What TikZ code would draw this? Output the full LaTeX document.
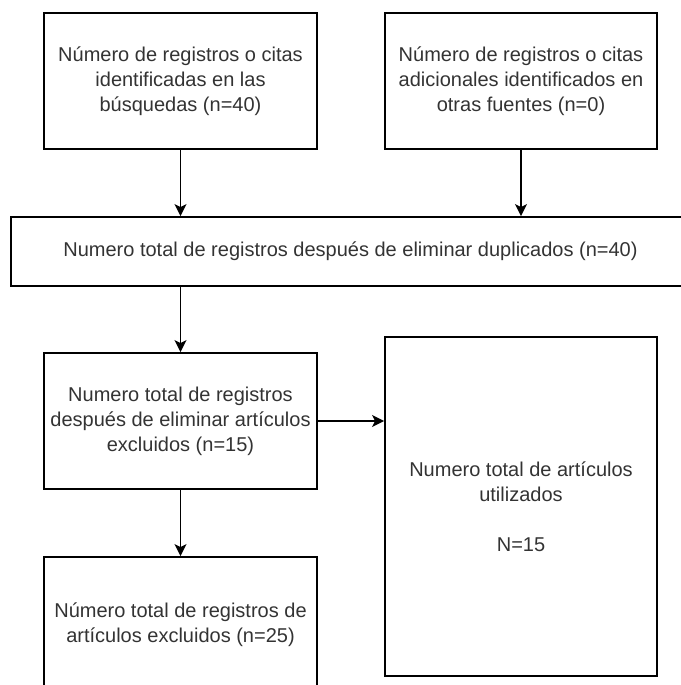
\documentclass[tikz,border=0pt]{standalone}
\usepackage{fontspec}
\setmainfont{Liberation Sans}
\usetikzlibrary{arrows.meta}

\begin{document}
\begin{tikzpicture}[x=1pt,y=-1pt]
  \tikzset{flow box/.style 2 args={draw,line width=1.8pt,rectangle,inner sep=0pt,align=center,
      minimum width=#1,minimum height=#2,text=black!80,font=\fontsize{20}{25}\selectfont}}
  \tikzset{flow arrow/.style={line width=1.8pt,-{Stealth[length=12pt,width=12pt,inset=3pt]}}}

  \useasboundingbox (0,0) rectangle (680,685);

  \node [flow box={273pt}{136pt}] (A) at (180.5,81) {Número de registros o citas\\identificadas en las\\búsquedas (n=40)};
  \node [flow box={272pt}{136pt}] (B) at (521,81) {Número de registros o citas\\adicionales identificados en\\otras fuentes (n=0)};
  \node [flow box={679pt}{69pt}] (T) at (350.5,251.5) {Numero total de registros después de eliminar duplicados (n=40)};
  \node [flow box={273pt}{136pt}] (C) at (180.5,421) {Numero total de registros\\después de eliminar artículos\\excluidos (n=15)};
  \node [flow box={272pt}{339pt}] (D) at (521,506.5) {Numero total de artículos\\utilizados\\[25pt]N=15};
  \node [flow box={273pt}{136pt}] (E) at (180.5,625) {Número total de registros de\\artículos excluidos (n=25)};

  \draw [flow arrow] (A) -- (A |- T.north);
  \draw [flow arrow] (B) -- (B |- T.north);
  \draw [flow arrow] (T.south -| C) -- (C);
  \draw [flow arrow] (C) -- (E);
  \draw [flow arrow] (C.east) -- (C.east -| D.west);
\end{tikzpicture}
\end{document}
